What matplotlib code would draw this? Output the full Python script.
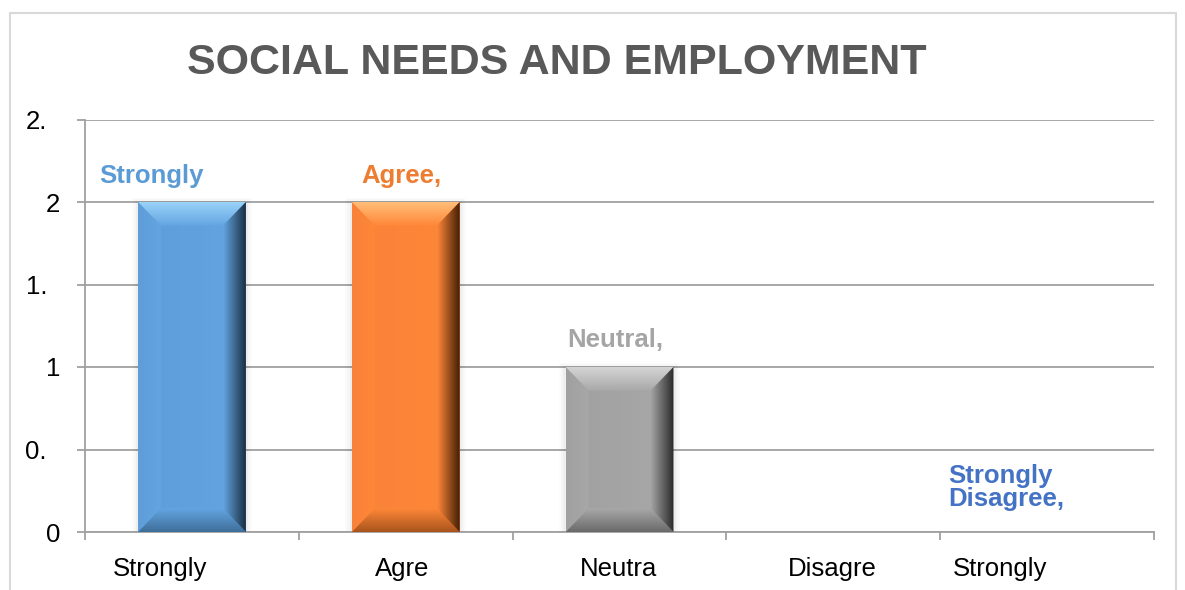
import matplotlib
matplotlib.use("Agg")
import matplotlib.pyplot as plt
import numpy as np
from matplotlib.patches import Polygon, Rectangle
from matplotlib.colors import LinearSegmentedColormap
from matplotlib.transforms import ScaledTranslation

# ---- data ----
categories = ["Strongly Agree", "Agree", "Neutral", "Disagree", "Strongly Disagree"]
values = [2, 2, 1, 0, 0]
tick_texts = ["Strongly", "Agre", "Neutra", "Disagre", "Strongly"]
data_labels = ["Strongly", "Agree,", "Neutral,", "", "Strongly\nDisagree,"]
ytick_values = [0, 0.5, 1, 1.5, 2, 2.5]
ytick_texts = ["0", "0.", "1", "1.", "2", "2."]
title = "SOCIAL NEEDS AND EMPLOYMENT"

# ---- styles ----
bar_colors = ["#63A5E2", "#FF8738", "#A8A8A8", "#62A3E0", "#4472C4"]
bevel = {  # top, bottom, left, right-dark
    0: ("#9AD2F8", "#3F6E99", "#5E9DD8", "#182A3C"),
    1: ("#FFBE78", "#A9541C", "#F8823A", "#3A1A05"),
    2: ("#D4D4D4", "#6A6A6A", "#A0A0A0", "#2A2A2A"),
}
label_colors = ["#5B9BD5", "#ED7D31", "#A5A5A5", "#FFC000", "#4472C4"]
label_dx = [-0.19, -0.02, -0.02, 0.0, 3.537]
label_y = [2.157, 2.157, 1.164, 0.0, 0.267]
label_ha = ["center", "center", "center", "center", "left"]
tick_left_x = [-0.369, 0.856, 1.815, 2.788, 3.560]

plt.rcParams['font.family'] = ['Liberation Sans', 'DejaVu Sans']

W, H, DPI = 1185, 590, 100
fig = plt.figure(figsize=(W / DPI, H / DPI), dpi=DPI)
fig.patch.set_facecolor("white")

# outer frame
fig.patches.append(Rectangle((10 / W, -0.05), (1176 - 10) / W, 1.05 - 13 / H,
                             transform=fig.transFigure, fill=False,
                             edgecolor="#D9D9D9", linewidth=1.5))

ax = fig.add_axes([85 / W, 1 - 532 / H, (1154 - 85) / W, (532 - 119.5) / H])
x = np.arange(len(categories))
bars = ax.bar(x, values, width=0.505, color=bar_colors, zorder=3, linewidth=0)

ax.set_xlim(-0.5, len(categories) - 0.5)
ax.set_ylim(0, 2.5)


def grad_poly(verts, c0, c1, direction, z):
    poly = Polygon(verts, closed=True, facecolor="none", edgecolor="none")
    ax.add_patch(poly)
    xs = [v[0] for v in verts]
    ys = [v[1] for v in verts]
    cmap = LinearSegmentedColormap.from_list("g", [c0, c1])
    if direction == "h":
        arr = np.linspace(0, 1, 64)[None, :]
    else:
        arr = np.linspace(0, 1, 64)[:, None]
    im = ax.imshow(arr, cmap=cmap, extent=[min(xs), max(xs), min(ys), max(ys)],
                   origin="lower", aspect="auto", zorder=z, interpolation="bilinear")
    im.set_clip_path(poly)


bdx = 0.108  # bevel width in category units
bdy = 0.145  # bevel height in value units
for i, p in enumerate(bars.patches):
    h = p.get_height()
    if h <= 0:
        continue
    x0, x1 = p.get_x(), p.get_x() + p.get_width()
    y0, y1 = 0, h
    base = bar_colors[i]
    top, bot, left, dark = bevel[i]
    # soft shadow
    for k, a in enumerate([0.03, 0.02, 0.015]):
        e = 0.01 * (k + 1)
        ax.add_patch(Rectangle((x0 - e, y0), (x1 - x0) + 2 * e, h + e * 0.8,
                               facecolor="black", alpha=a, linewidth=0, zorder=2))
    # face gradient (slight)
    grad_poly([(x0, y0), (x1, y0), (x1, y1), (x0, y1)], left, base, "h", 3.1)
    # top bevel
    grad_poly([(x0, y1), (x1, y1), (x1 - bdx, y1 - bdy), (x0 + bdx, y1 - bdy)],
              base, top, "v", 3.3)
    # bottom bevel
    grad_poly([(x0, y0), (x1, y0), (x1 - bdx, y0 + bdy), (x0 + bdx, y0 + bdy)],
              bot, base, "v", 3.3)
    # left bevel
    grad_poly([(x0, y0), (x0 + bdx, y0 + bdy), (x0 + bdx, y1 - bdy), (x0, y1)],
              left, base, "h", 3.3)
    # right bevel
    grad_poly([(x1, y0), (x1 - bdx, y0 + bdy), (x1 - bdx, y1 - bdy), (x1, y1)],
              base, dark, "h", 3.3)

ax.set_xlim(-0.5, len(categories) - 0.5)
ax.set_ylim(0, 2.5)

# grid & spines
ax.set_yticks(ytick_values)
ax.set_yticklabels(ytick_texts, fontsize=18.5)
ax.yaxis.grid(True, color="#A0A0A0", linewidth=1.3, zorder=0)
ax.set_axisbelow(True)
for s in ["top", "right"]:
    ax.spines[s].set_visible(False)
for s in ["left", "bottom"]:
    ax.spines[s].set_color("#A0A0A0")
    ax.spines[s].set_linewidth(1.3)
ax.tick_params(axis="y", length=6, width=1.3, color="#A0A0A0", pad=12)
for lab in ax.get_yticklabels():
    if lab.get_text().endswith("."):
        lab.set_transform(lab.get_transform() + ScaledTranslation(-13 / DPI, 0, fig.dpi_scale_trans))

# x ticks at category boundaries
ax.set_xticks(np.arange(-0.5, len(categories), 1.0))
ax.set_xticklabels([])
ax.tick_params(axis="x", length=6, width=1.3, color="#A0A0A0")

for i, t in enumerate(tick_texts):
    ax.text(tick_left_x[i], 0, t, transform=ax.get_xaxis_transform() +
            ScaledTranslation(0, -25 / DPI, fig.dpi_scale_trans),
            ha="left", va="top", fontsize=18.5, color="black")

# data labels
for i, t in enumerate(data_labels):
    if not t:
        continue
    xp = (i + label_dx[i]) if label_ha[i] == "center" else label_dx[i]
    ax.text(xp, label_y[i], t, ha=label_ha[i], va="center", fontsize=18.5,
            fontweight="bold", color=label_colors[i], linespacing=0.95, zorder=5)

fig.text(557 / W, 1 - 63 / H, title, ha="center", va="center",
         fontsize=31, fontweight="bold", color="#595959")

fig.savefig("out.png", dpi=DPI)
